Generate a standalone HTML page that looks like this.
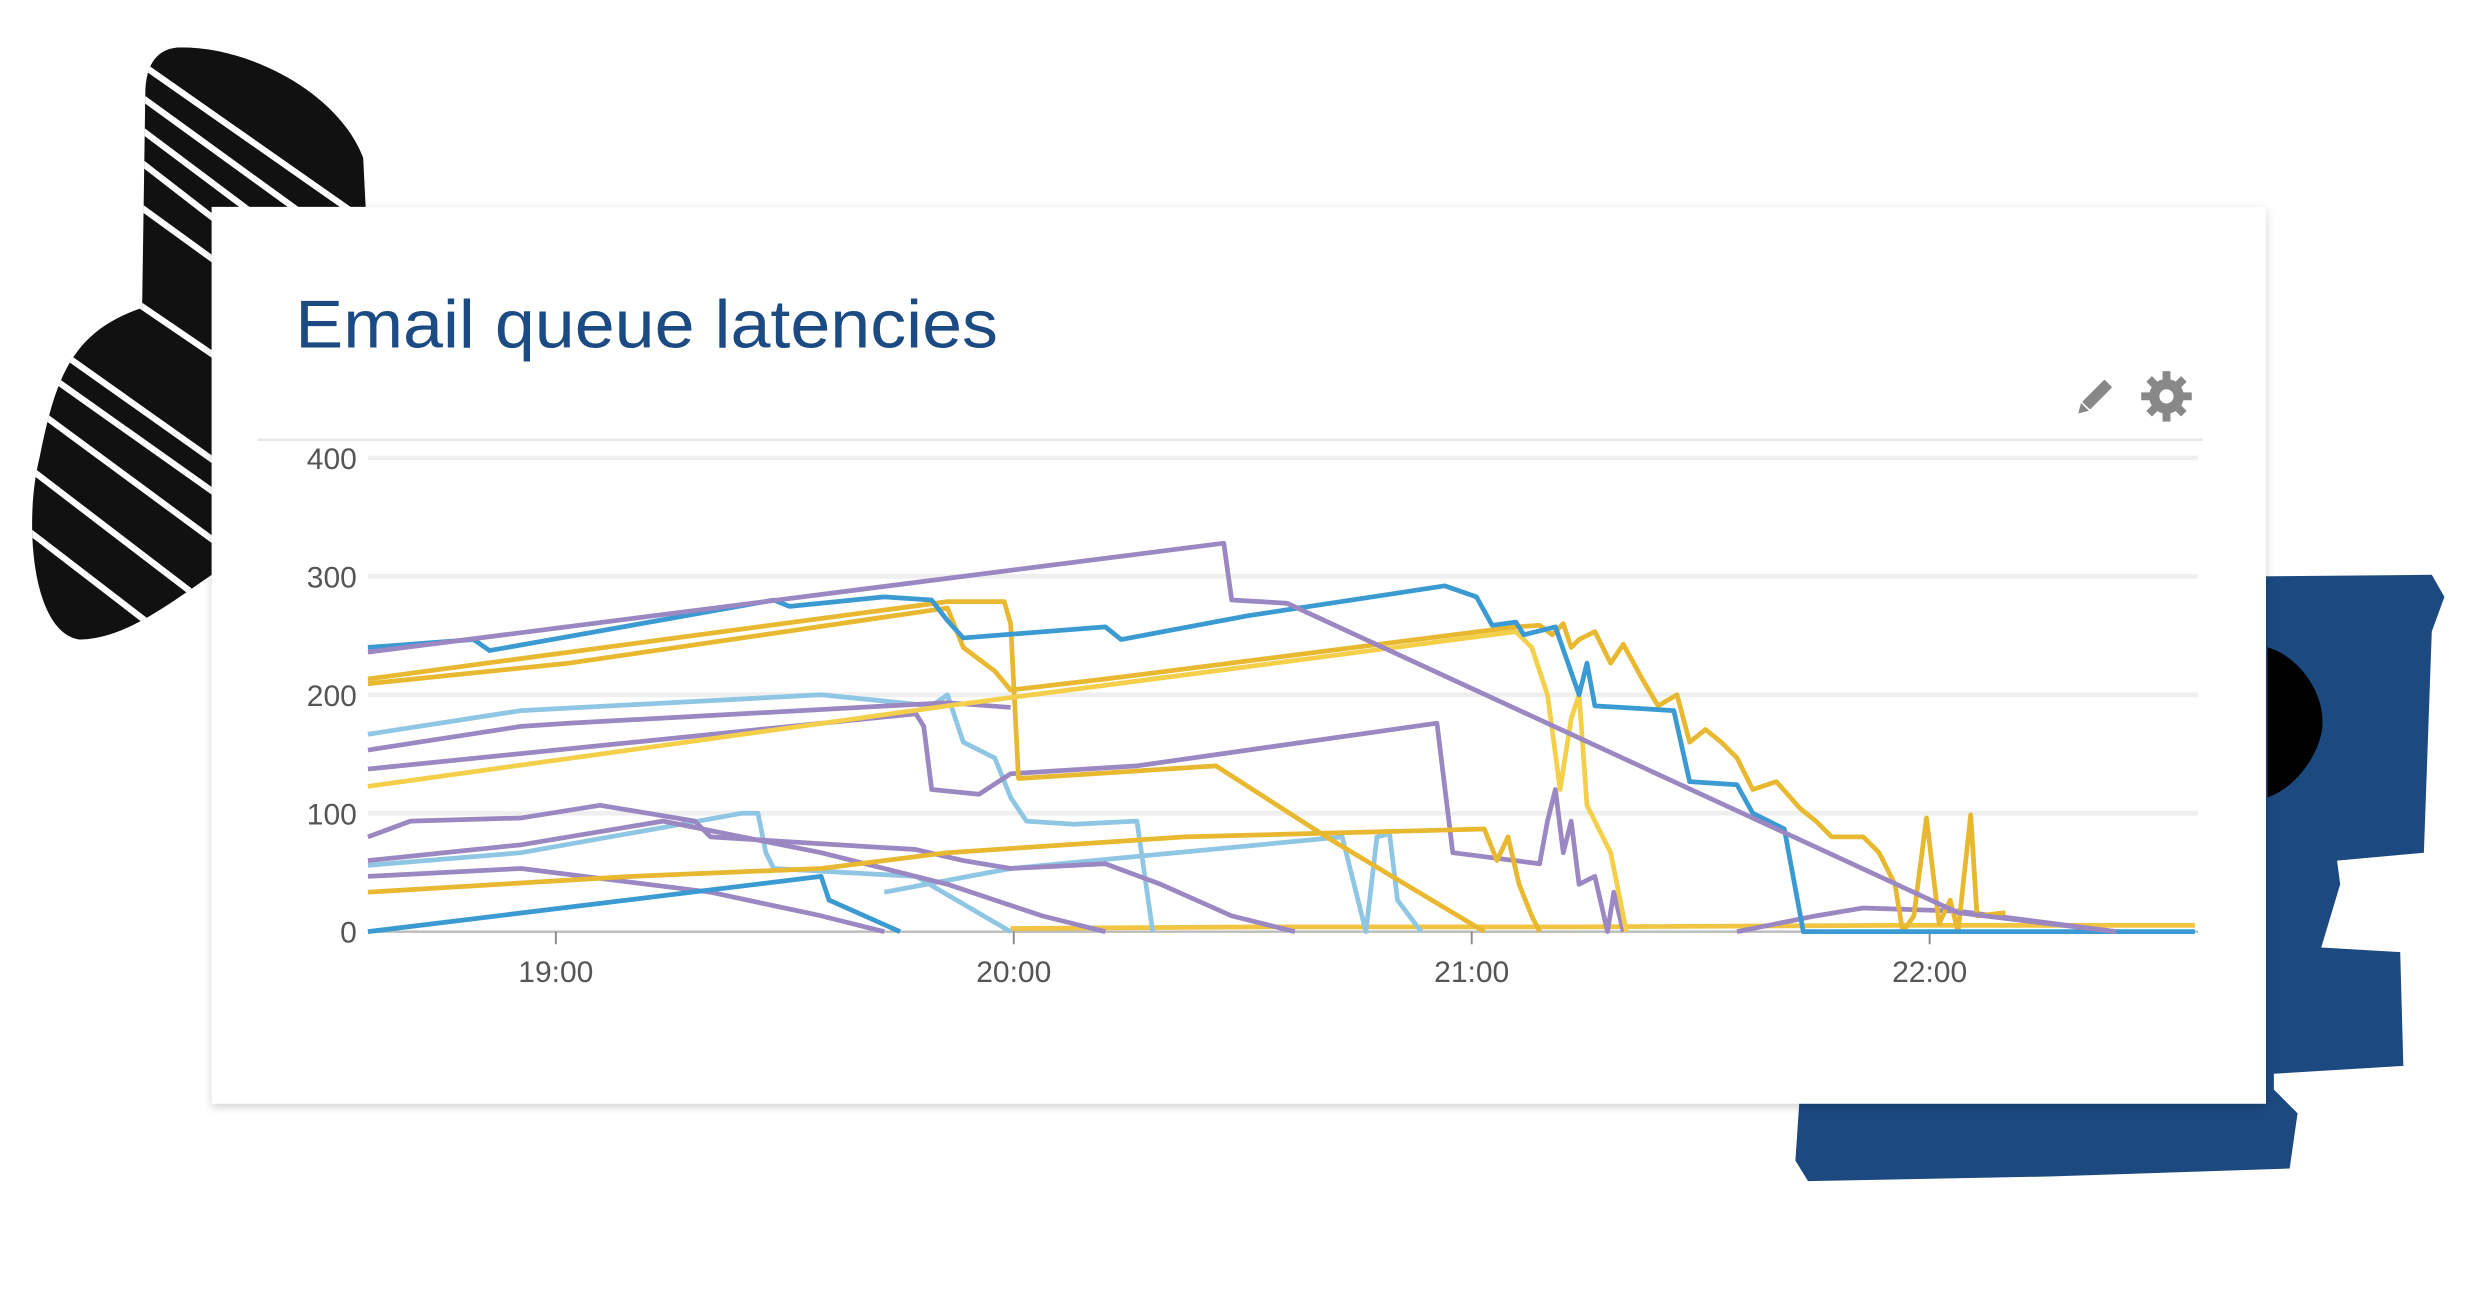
<!DOCTYPE html>
<html><head><meta charset="utf-8"><style>
html,body{margin:0;padding:0;background:#fff;}
svg{display:block;}
</style></head><body>
<svg width="2476" height="1310" viewBox="0 0 1568 829.6" xmlns="http://www.w3.org/2000/svg">
<defs>
<clipPath id="blob"><path d="M115,30 C160,30 215,60 230,100 L232,140 L140,140 L140,360 C110,380 80,405 50,405 C20,400 15,330 25,290 C35,240 45,210 90,195 L92,60 C92,40 100,30 115,30 Z"/></clipPath>
<filter id="sh" x="-5%" y="-5%" width="110%" height="115%"><feGaussianBlur stdDeviation="3"/></filter>
</defs>
<g clip-path="url(#blob)">
<rect x="0" y="0" width="260" height="420" fill="#111"/>
<g stroke="#fff" stroke-width="4">
<line x1="60" y1="20" x2="260" y2="160"/><line x1="60" y1="40" x2="260" y2="185"/>
<line x1="60" y1="60" x2="260" y2="210"/><line x1="60" y1="80" x2="260" y2="235"/>
<line x1="40" y1="160" x2="260" y2="310"/><line x1="20" y1="210" x2="260" y2="380"/>
<line x1="10" y1="250" x2="200" y2="390"/><line x1="10" y1="290" x2="180" y2="420"/>
<line x1="10" y1="330" x2="140" y2="430"/><line x1="20" y1="230" x2="260" y2="400"/>
<line x1="60" y1="110" x2="260" y2="255"/>
</g>
</g>
<path d="M1430,365 L1540,364 L1548,378 L1540,400 L1535,540 L1480,545 L1482,560 L1470,600 L1520,603 L1522,675 L1440,680 L1440,690 L1455,705 L1450,740 L1300,745 L1145,748 L1137,735 L1140,690 L1430,690 Z" fill="#1c4a80"/>
<path d="M1436,410 C1455,415 1475,440 1470,465 C1465,485 1450,500 1436,505 Z" fill="#000"/>
<rect x="134" y="133" width="1301" height="568" fill="#000" opacity="0.18" filter="url(#sh)"/>
<rect x="134" y="131" width="1301" height="568" fill="#fff"/>
<text x="187" y="220" font-family="Liberation Sans, sans-serif" font-size="43" fill="#1c4a82" textLength="445" lengthAdjust="spacingAndGlyphs">Email queue latencies</text>
<g transform="translate(1326,252) rotate(45)" fill="#888"><rect x="-3.5" y="-13" width="7" height="20" rx="1"/><polygon points="-3.5,8 3.5,8 0,14"/></g>
<g transform="translate(1372,251)" fill="#888">
<circle r="11"/>
<g stroke="#888" stroke-width="5"><line x1="0" y1="-16" x2="0" y2="16"/><line x1="-16" y1="0" x2="16" y2="0"/><line x1="-11" y1="-11" x2="11" y2="11"/><line x1="-11" y1="11" x2="11" y2="-11"/></g>
<circle r="4.5" fill="#fff"/></g>
<line x1="163" y1="278.5" x2="1395" y2="278.5" stroke="#e6e6e6" stroke-width="1.5"/>
<g stroke="#efefef" stroke-width="3">
<line x1="233" y1="290" x2="1392" y2="290"/><line x1="233" y1="365" x2="1392" y2="365"/>
<line x1="233" y1="440" x2="1392" y2="440"/><line x1="233" y1="515" x2="1392" y2="515"/>
</g>
<line x1="233" y1="590" x2="1392" y2="590" stroke="#bbb" stroke-width="1.5"/>
<g font-family="Liberation Sans, sans-serif" font-size="19" fill="#555" text-anchor="end">
<text x="226" y="297">400</text><text x="226" y="372">300</text><text x="226" y="447">200</text><text x="226" y="522">100</text><text x="226" y="597">0</text>
</g>
<g stroke="#888" stroke-width="1.2"><line x1="352" y1="590" x2="352" y2="598"/><line x1="642" y1="590" x2="642" y2="598"/><line x1="932" y1="590" x2="932" y2="598"/><line x1="1222" y1="590" x2="1222" y2="598"/></g>
<g font-family="Liberation Sans, sans-serif" font-size="19" fill="#555" text-anchor="middle">
<text x="352" y="622">19:00</text><text x="642" y="622">20:00</text><text x="932" y="622">21:00</text><text x="1222" y="622">22:00</text>
</g>
<g fill="none" stroke-width="3" stroke-linejoin="round">
<polyline stroke="#f1c542" points="640,588 800,587 1000,587 1200,586 1390,586"/>
<polyline stroke="#8ec6e3" points="233,548 330,540 420,524 470,515 480,515 485,540 490,550 580,555 640,590"/>
<polyline stroke="#8ec6e3" points="560,565 640,550 850,530 865,590 872,530 880,528 885,570 900,590"/>
<polyline stroke="#8ec6e3" points="233,465 330,450 520,440 590,447 600,440 610,470 630,480 640,505 650,520 680,522 720,520 730,590"/>
<polyline stroke="#9b87c1" points="233,530 260,520 330,518 380,510 410,515 440,520 450,530 580,538 610,545 640,550 700,547 735,560 780,580 820,590"/>
<polyline stroke="#9b87c1" points="233,545 330,535 420,520 470,530 520,540 600,560 660,580 700,590"/>
<polyline stroke="#9b87c1" points="233,555 330,550 450,565 520,580 560,590"/>
<polyline stroke="#9b87c1" points="233,475 330,460 360,458 600,445 640,448"/>
<polyline stroke="#9b87c1" points="233,487 580,452 585,460 590,500 620,503 640,490 720,485 910,458 920,540 975,547 980,520 985,500 990,540 995,520 1000,560 1010,555 1018,590 1022,565 1028,590"/>
<polyline stroke="#9b87c1" points="1100,590 1150,580 1180,575 1240,577 1340,590"/>
<polyline stroke="#3a9ad1" points="233,590 520,555 525,570 570,590"/>
<polyline stroke="#e8b830" points="233,565 400,555 520,550 600,540 750,530 940,525 948,545 955,530 962,560 970,580 975,590"/>
<polyline stroke="#e8b830" points="233,430 600,381 636,381 640,395 645,493 770,485 840,530 940,590"/>
<polyline stroke="#f4cf4a" points="233,498 600,447 960,400 970,410 980,440 988,500 995,455 1000,440 1005,510 1020,540 1030,590"/>
<polyline stroke="#e8b830" points="233,433 360,420 600,385 610,410 630,425 640,437 700,430 960,397 975,396 983,402 990,395 995,410 1000,405 1010,400 1020,420 1028,408 1040,430 1050,447 1062,440 1070,470 1080,462 1090,470 1100,480 1110,500 1125,495 1140,512 1150,520 1160,530 1180,530 1190,540 1200,560 1205,590 1212,580 1220,518 1228,585 1235,570 1240,590 1248,516 1252,580 1270,578"/>
<polyline stroke="#3a9ad1" points="233,410 300,405 310,412 490,380 500,384 560,378 590,380 600,393 610,404 700,397 710,405 790,390 915,371 935,378 945,396 960,394 965,402 985,397 993,420 1000,440 1005,420 1010,447 1060,450 1070,495 1100,497 1110,515 1130,525 1142,590 1390,590"/>
<polyline stroke="#9b87c1" points="233,413 775,344 780,380 815,382 1240,578 1340,590"/>
</g>
</svg>
</body></html>
